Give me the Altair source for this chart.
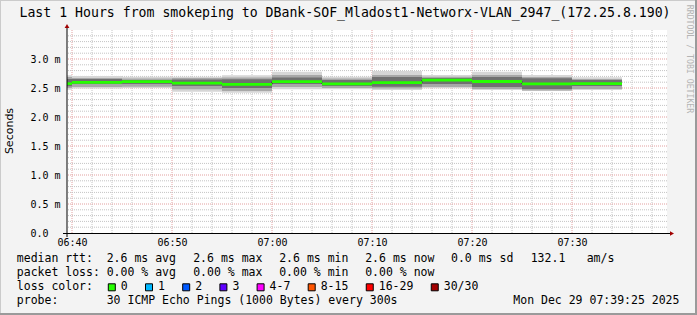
import altair as alt
import pandas as pd

# ---------------- data ----------------
seg_start = ["06:35", "06:40", "06:45", "06:50", "06:55", "07:00",
             "07:05", "07:10", "07:15", "07:20", "07:25", "07:30"]
seg_len_min = 5
median = [2.575, 2.598, 2.610, 2.583, 2.563, 2.609, 2.572, 2.592, 2.635, 2.612, 2.572, 2.575]
smoke_min = [2.470, 2.491, 2.500, 2.436, 2.419, 2.478, 2.478, 2.466, 2.495, 2.466, 2.448, 2.466]
smoke_lo = [2.500, 2.517, 2.522, 2.478, 2.448, 2.517, 2.500, 2.491, 2.517, 2.483, 2.457, 2.483]
smoke_q1 = [2.530, 2.569, 2.569, 2.534, 2.500, 2.569, 2.534, 2.522, 2.569, 2.517, 2.483, 2.534]
smoke_q3 = [2.655, 2.655, 2.638, 2.647, 2.650, 2.681, 2.638, 2.690, 2.672, 2.690, 2.667, 2.638]
smoke_hi = [2.690, 2.672, 2.664, 2.672, 2.681, 2.724, 2.664, 2.724, 2.695, 2.724, 2.690, 2.655]
smoke_max = [2.720, 2.707, 2.695, 2.695, 2.719, 2.781, 2.695, 2.793, 2.724, 2.781, 2.724, 2.684]

x_tick_labels = ["06:40", "06:50", "07:00", "07:10", "07:20", "07:30"]
y_tick_values = [0.0, 0.5, 1.0, 1.5, 2.0, 2.5, 3.0]

title_text = "Last 1 Hours from smokeping to DBank-SOF_Mladost1-Networx-VLAN_2947_(172.25.8.190)"
y_title = "Seconds"
watermark = "RRDTOOL / TOBI OETIKER"

rtt_row = ["median rtt:", "2.6 ms avg", "2.6 ms max", "2.6 ms min", "2.6 ms now", "0.0 ms sd", "132.1", "am/s"]
loss_row = ["packet loss:", "0.00 % avg", "0.00 % max", "0.00 % min", "0.00 % now"]
loss_color_head = "loss color:"
loss_labels = ["0", "1", "2", "3", "4-7", "8-15", "16-29", "30/30"]
loss_colors = ["#26ff00", "#00b8ff", "#0059ff", "#5e00ff", "#ff00ff", "#ff5500", "#ff0000", "#a10000"]
probe_row = ["probe:", "30 ICMP Echo Pings (1000 Bytes) every 300s", "Mon Dec 29 07:39:25 2025"]

# ---------------- layout constants ----------------
W, H = 600, 203
LEFT, TOP = 67, 30
X0, X1 = 39.5, 99.5          # minutes after 06:00
Y0, Y1 = 0.0, 3.5
MONO = "DejaVu Sans Mono"


def tmin(s):
    h, m = s.split(":")
    return (int(h) - 6) * 60 + int(m)


starts = [tmin(s) for s in seg_start]
ends = [s + seg_len_min for s in starts]
df = pd.DataFrame(dict(start=starts, end=ends, med=median, mn=smoke_min, lo=smoke_lo,
                       q1=smoke_q1, q3=smoke_q3, hi=smoke_hi, mx=smoke_max))
line_df = pd.DataFrame(dict(t=starts + [ends[-1]], med=median + [median[-1]]))

xs = alt.Scale(domain=[X0, X1], nice=False, zero=False)
ys = alt.Scale(domain=[Y0, Y1], nice=False, zero=False)

tick_vals = [tmin(s) for s in x_tick_labels]
label_expr_x = "(datum.value < 60 ? '06:' : '07:') + (datum.value % 60 < 10 ? '0' : '') + (datum.value % 60)"
xaxis = alt.Axis(values=tick_vals, labelExpr=label_expr_x, title=None, grid=False, ticks=False,
                 domain=False, labelFont=MONO, labelFontSize=10, labelColor="#000",
                 labelPadding=4, labelFlush=False, labelOverlap=False)
yaxis = alt.Axis(values=y_tick_values,
                 labelExpr="datum.value == 0 ? '0.0' : format(datum.value, '.1f') + ' m'",
                 title=None, grid=False, ticks=False, domain=False, labelFont=MONO,
                 labelFontSize=10, labelColor="#000", labelAlign="left", labelPadding=37,
                 labelBaseline="middle", labelFlush=False, labelOverlap=False)

layers = []

# grid
minor_x = [m for m in range(40, 100, 2) if m % 10 != 0]
major_x = [m for m in range(40, 100, 10)]
minor_y = [i / 10 for i in range(1, 35) if i % 5 != 0]
major_y = [i / 10 for i in range(5, 35, 5)]
for vals, col in [(minor_x, "#c4c4c4"), (major_x, "#e2a0a0")]:
    layers.append(alt.Chart(pd.DataFrame({"v": vals})).mark_rule(
        color=col, strokeDash=[1, 1], strokeWidth=1).encode(
        x=alt.X("v:Q", scale=xs, axis=xaxis)))
for vals, col in [(minor_y, "#c4c4c4"), (major_y, "#e2a0a0")]:
    layers.append(alt.Chart(pd.DataFrame({"v": vals})).mark_rule(
        color=col, strokeDash=[1, 1], strokeWidth=1).encode(
        y=alt.Y("v:Q", scale=ys, axis=yaxis)))

# smoke
for lo, hi, col in [("mn", "mx", "#d6d6d6"), ("lo", "hi", "#a8a8a8"), ("q1", "q3", "#707070")]:
    layers.append(alt.Chart(df).mark_rect(color=col, clip=True).encode(
        x=alt.X("start:Q", scale=xs, axis=xaxis), x2="end:Q",
        y=alt.Y(f"{lo}:Q", scale=ys, axis=yaxis), y2=f"{hi}:Q"))

# median step connector + green median
layers.append(alt.Chart(line_df).mark_line(interpolate="step-after", color="#222", strokeWidth=1, clip=True).encode(
    x=alt.X("t:Q", scale=xs, axis=xaxis), y=alt.Y("med:Q", scale=ys, axis=yaxis)))
layers.append(alt.Chart(df).mark_rule(color=loss_colors[0], strokeWidth=2.8, clip=True).encode(
    x=alt.X("start:Q", scale=xs, axis=xaxis), x2="end:Q", y=alt.Y("med:Q", scale=ys, axis=yaxis)))

one = alt.Data(values=[{}])


def px(x):
    return x - LEFT


def py(y):
    return y - TOP


# axis lines and arrows
layers.append(alt.Chart(one).mark_rule(color="#000", strokeWidth=1).encode(
    x=alt.value(px(63)), x2=alt.value(px(670)), y=alt.value(py(233.5))))
layers.append(alt.Chart(one).mark_rule(color="#000", strokeWidth=1).encode(
    x=alt.value(px(67)), y=alt.value(py(237)), y2=alt.value(py(28))))
layers.append(alt.Chart(one).mark_point(shape="triangle-right", filled=True, color="#a00000", size=22, opacity=1).encode(
    x=alt.value(px(672)), y=alt.value(py(233.5))))
layers.append(alt.Chart(one).mark_point(shape="triangle-up", filled=True, color="#a00000", size=22, opacity=1).encode(
    x=alt.value(px(67)), y=alt.value(py(26))))


def text_layer(txt, x, y, size, align="left", font=MONO, color="#000", angle=0, baseline="middle"):
    kw = dict(align=align, baseline=baseline, font=font, fontSize=size, color=color)
    if angle:
        kw["angle"] = angle
    return alt.Chart(one).mark_text(**kw).encode(
        x=alt.value(px(x)), y=alt.value(py(y)), text=alt.value(txt))


# title, y title, watermark
layers.append(text_layer(title_text, 345, 12.5, 13.2, align="center"))
layers.append(text_layer(y_title, 10, 131, 11, align="center", font="DejaVu Sans", angle=270))
layers.append(text_layer(watermark, 689, 59, 8.2, align="center", color="#b4b4b4", angle=90))

# legend rows
LEG = 11.5
row_y = [259.3, 273.3, 287.3, 301.3]
col_x = [16.8, 106.7, 193.2, 279.2, 365.2, 451.0, 530.7, 586.7]
for i, t in enumerate(rtt_row):
    layers.append(text_layer(t, col_x[i], row_y[0], LEG))
for i, t in enumerate(loss_row):
    layers.append(text_layer(t, col_x[i], row_y[1], LEG))
layers.append(text_layer(loss_color_head, col_x[0], row_y[2], LEG))
bx = 108.3
for lab, col in zip(loss_labels, loss_colors):
    layers.append(alt.Chart(one).mark_rect(color=col, stroke="#000", strokeWidth=1).encode(
        x=alt.value(px(bx)), x2=alt.value(px(bx + 7)),
        y=alt.value(py(row_y[2] - 3.5)), y2=alt.value(py(row_y[2] + 3.5))))
    layers.append(text_layer(lab, bx + 12.5, row_y[2], LEG))
    bx += 37.2 + (len(lab) - 1) * 6.95
layers.append(text_layer(probe_row[0], col_x[0], row_y[3], LEG))
layers.append(text_layer(probe_row[1], col_x[1], row_y[3], LEG))
layers.append(text_layer(probe_row[2], 513.3, row_y[3], LEG))

# outer frame
layers.append(alt.Chart(one).mark_rule(color="#cbcbcb", strokeWidth=1).encode(
    x=alt.value(px(0)), x2=alt.value(px(697)), y=alt.value(py(0.5))))
layers.append(alt.Chart(one).mark_rule(color="#cbcbcb", strokeWidth=1).encode(
    x=alt.value(px(0.5)), y=alt.value(py(0)), y2=alt.value(py(315))))
layers.append(alt.Chart(one).mark_rule(color="#9a9a9a", strokeWidth=2).encode(
    x=alt.value(px(0)), x2=alt.value(px(697)), y=alt.value(py(314))))
layers.append(alt.Chart(one).mark_rule(color="#9a9a9a", strokeWidth=2).encode(
    x=alt.value(px(696)), y=alt.value(py(0)), y2=alt.value(py(315))))

chart = alt.layer(*layers).properties(
    width=W, height=H,
    padding={"left": LEFT, "top": TOP, "right": 697 - LEFT - W, "bottom": 315 - TOP - H},
    autosize=alt.AutoSizeParams(type="none"),
    background="#f3f3f3",
).configure_view(fill="white", stroke=None)

chart.save("out.html", embed_options={"renderer": "svg", "actions": False})
